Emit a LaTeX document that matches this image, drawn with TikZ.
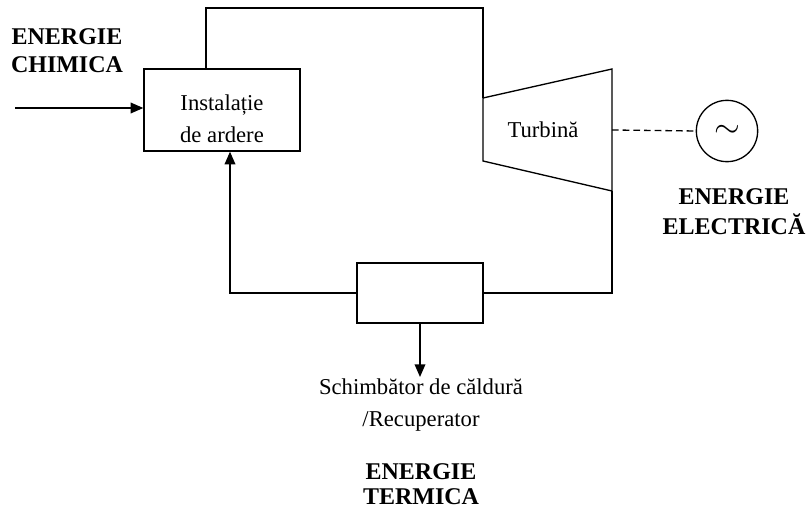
\documentclass[tikz,border=0pt]{standalone}
\usepackage{fontspec}
\setmainfont{Liberation Serif}
\usetikzlibrary{positioning, arrows.meta}

\begin{document}
\begin{tikzpicture}[x=0.75pt, y=-0.75pt, line width=1pt, font=\fontsize{17}{24}\selectfont,
        >={Triangle[length=9.5pt, width=8pt]},
        block/.style={draw, rectangle, inner sep=0pt},
        title/.style={align=center, inner sep=0pt}]
        \useasboundingbox (0,0) rectangle (811,510);

        % boxes
        \node (ardere) [block, minimum width=117pt, minimum height=61.5pt] at (222,110) {};
        \node (ardtxt) [align=center] at (222,119) {Instalație\\de ardere};
        \node (hx) [block, minimum width=94.5pt, minimum height=45pt] at (420,293) {};
        \node (gen) [draw, circle, minimum size=46pt, inner sep=0pt] at (727,131) {\fontsize{28}{28}\selectfont$\sim$};

        % turbine
        \coordinate (tl) at (483,98);
        \coordinate (bl) at (483,161);
        \coordinate (tr) at (612,69);
        \coordinate (br) at (612,191);
        \coordinate (tm) at (612,130);
        \draw (tl) -- (tr) -- (br) -- (bl) -- cycle;
        \node (turb) at (543,130) {Turbină};

        % labels
        \node (chim) [title, font=\fontsize{18}{21}\selectfont\bfseries] at (67,51) {ENERGIE\\CHIMICA};
        \node (elec) [title, font=\fontsize{18}{22.5}\selectfont\bfseries] at (734,212) {ENERGIE\\ELECTRICĂ};
        \node (schimb) [align=center, anchor=north, inner sep=1pt] at (421,377) {Schimbător de căldură\\/Recuperator};
        \node (term) [title, font=\fontsize{18}{19}\selectfont\bfseries] at (421,484) {ENERGIE\\TERMICA};

        % connections
        \coordinate (in) at (15,108);
        \coordinate (top) at (483,8);
        \draw[->] (in) -- (ardere.west |- in);
        \draw ([xshift=-12]ardere.north) |- (top) -- (tl);
        \draw (br) |- (hx.east);
        \draw[->] (hx.west) -| ([xshift=6]ardere.south);
        \draw[->] (hx.south) -- (hx.south |- schimb.north);
        \draw[dash pattern=on 5pt off 3pt] (tm) -- (gen.west);

        \end{tikzpicture}
\end{document}
